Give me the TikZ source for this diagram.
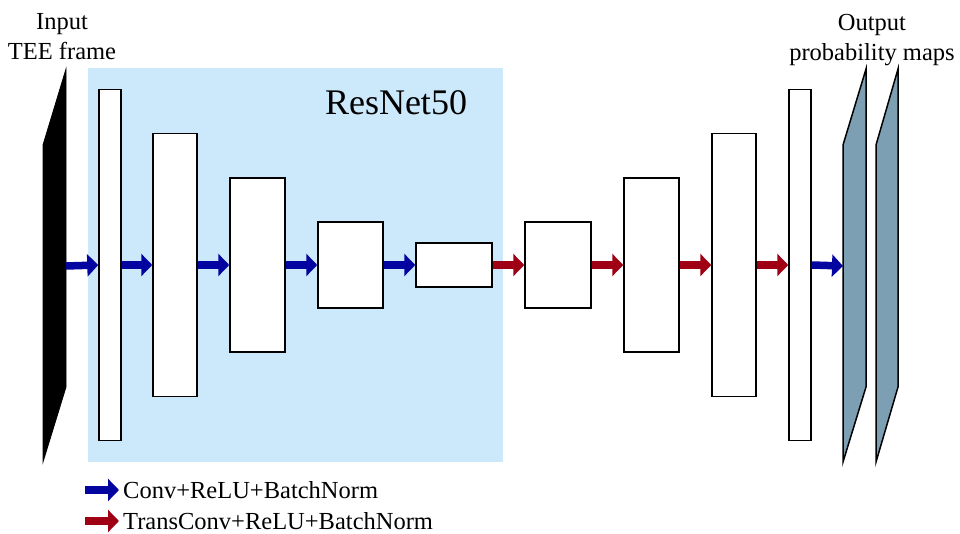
\documentclass[tikz,border=0pt]{standalone}
\usepackage{fontspec}
\setmainfont{Liberation Serif}
\usetikzlibrary{arrows.meta}
\definecolor{bgblue}{RGB}{204,232,251}
\definecolor{convblue}{RGB}{4,4,160}
\definecolor{transred}{RGB}{160,0,20}
\definecolor{mapfill}{RGB}{124,159,179}
\tikzset{
  fmap/.style={draw=black, line width=1.5pt, fill=white, inner sep=0pt, minimum width=#1pt},
  convarrow/.style={convblue, line width=7.5pt, -{Triangle[length=11pt,width=22pt]}},
  transarrow/.style={transred, line width=7.5pt, -{Triangle[length=11pt,width=22pt]}},
  lbl/.style={font=\fontsize{24.5}{30}\selectfont, align=center, inner sep=0pt},
  legtext/.style={font=\fontsize{24.5}{30}\selectfont, inner sep=0pt, anchor=base west}
}
\begin{document}
\begin{tikzpicture}[x=1pt,y=-1pt]
\useasboundingbox (0,0) rectangle (960,534);
% ResNet50 region
\fill[bgblue] (88,68) rectangle (503,462);
\node[font=\fontsize{36}{40}\selectfont, anchor=base, inner sep=0pt] (resnet) at (396,115) {ResNet50};
% input frame
\draw[fill=black, line width=0.8pt] (43,145) -- (66,69) -- (66,387) -- (43,462) -- cycle;
\coordinate (in0) at (66,266);
% output maps
\draw[fill=mapfill, line width=1.5pt] (843,145) -- (866,69) -- (866,387) -- (843,462) -- cycle;
\draw[fill=mapfill, line width=1.5pt] (876,145) -- (898,69) -- (898,387) -- (876,462) -- cycle;
\coordinate (out1) at (843,266);
% feature maps
\node[fmap=22, minimum height=351pt] (b1) at (110,265) {};
\node[fmap=44, minimum height=263pt] (b2) at (175,265) {};
\node[fmap=55, minimum height=174pt] (b3) at (257.5,265) {};
\node[fmap=65, minimum height=86pt] (b4) at (350.5,265) {};
\node[fmap=76, minimum height=44pt] (b5) at (454,265) {};
\node[fmap=66, minimum height=86pt] (b6) at (558,265) {};
\node[fmap=55, minimum height=174pt] (b7) at (651.5,265) {};
\node[fmap=44, minimum height=263pt] (b8) at (734,265) {};
\node[fmap=22, minimum height=351pt] (b9) at (800,265) {};
% arrows
\draw[convarrow] (in0) -- (b1.west);
\draw[convarrow] (b1.east) -- (b2.west);
\draw[convarrow] (b2.east) -- (b3.west);
\draw[convarrow] (b3.east) -- (b4.west);
\draw[convarrow] (b4.east) -- (b5.west);
\draw[transarrow] (b5.east) -- (b6.west);
\draw[transarrow] (b6.east) -- (b7.west);
\draw[transarrow] (b7.east) -- (b8.west);
\draw[transarrow] (b8.east) -- (b9.west);
\draw[convarrow] (b9.east) -- (out1);
% labels
\node[lbl, anchor=north] (inlbl) at (62,13) {Input\\TEE frame};
\node[lbl, anchor=north] (outlbl) at (872,14) {Output\\probability maps};
% legend
\coordinate (lc0) at (85,490);
\node[legtext] (lc) at (123,498) {Conv+ReLU+BatchNorm};
\draw[convarrow] (lc0) -- ([xshift=-4pt]lc.west |- lc0);
\coordinate (lt0) at (85,521);
\node[legtext] (lt) at (123,529) {TransConv+ReLU+BatchNorm};
\draw[transarrow] (lt0) -- ([xshift=-4pt]lt.west |- lt0);
\end{tikzpicture}
\end{document}
